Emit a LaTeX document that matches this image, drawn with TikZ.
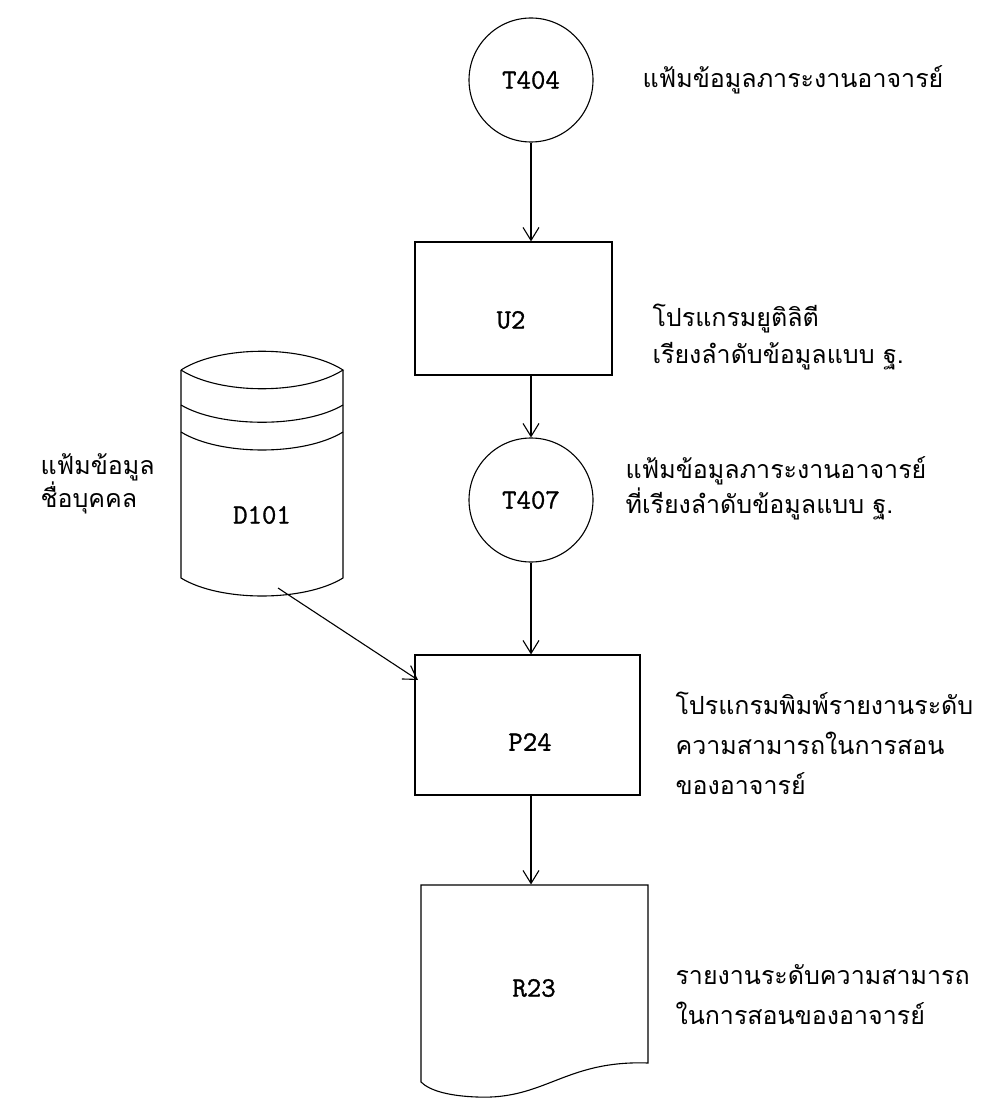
\documentclass[tikz,border=0pt]{standalone}
\usepackage{fontspec}
\newfontfamily\codefont[FakeBold=1.2]{Latin Modern Mono}
\newfontfamily\thaifont[Script=Thai]{Loma}
\usetikzlibrary{arrows.meta}
\begin{document}
\begin{tikzpicture}[x=1pt,y=-1pt,
  line width=1.1pt,
  flow/.style={-{Straight Barb[length=13pt,width=16pt,line width=1.1pt]}},
  code/.style={font=\codefont\fontsize{28}{30}\selectfont},
  proc/.style={draw,rectangle,inner sep=0pt},
  conn/.style={draw,circle,inner sep=0pt,minimum size=124pt,code},
  note/.style={anchor=west,align=left,inner sep=0pt,font=\thaifont\fontsize{25}{38}\selectfont}]
\useasboundingbox (0,0) rectangle (1004,1099);

% connectors (circles) and processes (boxes)
\node[conn] (t404) at (531,80) {T404};
\node[proc,minimum width=197pt,minimum height=133pt] (u2) at (513.5,308.5) {};
\node[code] (u2t) at (511,320) {U2};
\node[conn] (t407) at (531,500) {T407};
\node[proc,minimum width=225pt,minimum height=140pt] (p24) at (527.5,725) {};
\node[code] (p24t) at (530,742) {P24};

% disk file D101
\draw (181,370) .. controls (220,345) and (304,345) .. (343,370)
      .. controls (304,395) and (220,395) .. (181,370);
\draw (181,405) .. controls (220,428) and (304,428) .. (343,405);
\draw (181,432) .. controls (220,456) and (304,456) .. (343,432);
\draw (181,370) -- (181,578) .. controls (220,602) and (304,602) .. (343,578) -- (343,370);
\node[inner sep=0pt,minimum width=162pt,minimum height=246pt] (d101) at (262,474) {};
\node[code] (d101t) at (262,515) {D101};
\coordinate (d101out) at (278,588);

% printed report R23
\draw (421,885) -- (648,885) -- (648,1063)
      .. controls (565,1060) and (545,1100) .. (477,1097)
      .. controls (450,1096) and (430,1091) .. (421,1082) -- cycle;
\node[inner sep=0pt,minimum width=227pt,minimum height=178pt] (r23) at (534.5,974) {};
\node[code] (r23t) at (534,988) {R23};

% flow lines
\draw[flow] (t404.south) -- (u2.north -| t404.south);
\draw[flow] (u2.south -| t407.north) -- (t407.north);
\draw[flow] (t407.south) -- (p24.north -| t407.south);
\draw[flow] (p24.south -| t407.south) -- (r23.north -| t407.south);
\coordinate (p24in) at (418,680);
\draw[flow] (d101out) -- (p24in);

% descriptions
\node[note] (n1) at (642,80) {แฟ้มข้อมูลภาระงานอาจารย์};
\node[note,font=\thaifont\fontsize{25}{37}\selectfont] (n2) at (652,337) {โปรแกรมยูติลิตี\\ เรียงลำดับข้อมูลแบบ ฐ.};
\node[note,font=\thaifont\fontsize{25}{33}\selectfont] (n3) at (40,484) {แฟ้มข้อมูล\\ชื่อบุคคล};
\node[note,font=\thaifont\fontsize{25}{35}\selectfont] (n4) at (625,488) {แฟ้มข้อมูลภาระงานอาจารย์\\ที่เรียงลำดับข้อมูลแบบ ฐ.};
\node[note,font=\thaifont\fontsize{25}{40}\selectfont] (n5) at (675,743) {โปรแกรมพิมพ์รายงานระดับ\\ความสามารถในการสอน\\ของอาจารย์};
\node[note,font=\thaifont\fontsize{25}{40}\selectfont] (n6) at (675,995) {รายงานระดับความสามารถ\\ในการสอนของอาจารย์};
\end{tikzpicture}
\end{document}
